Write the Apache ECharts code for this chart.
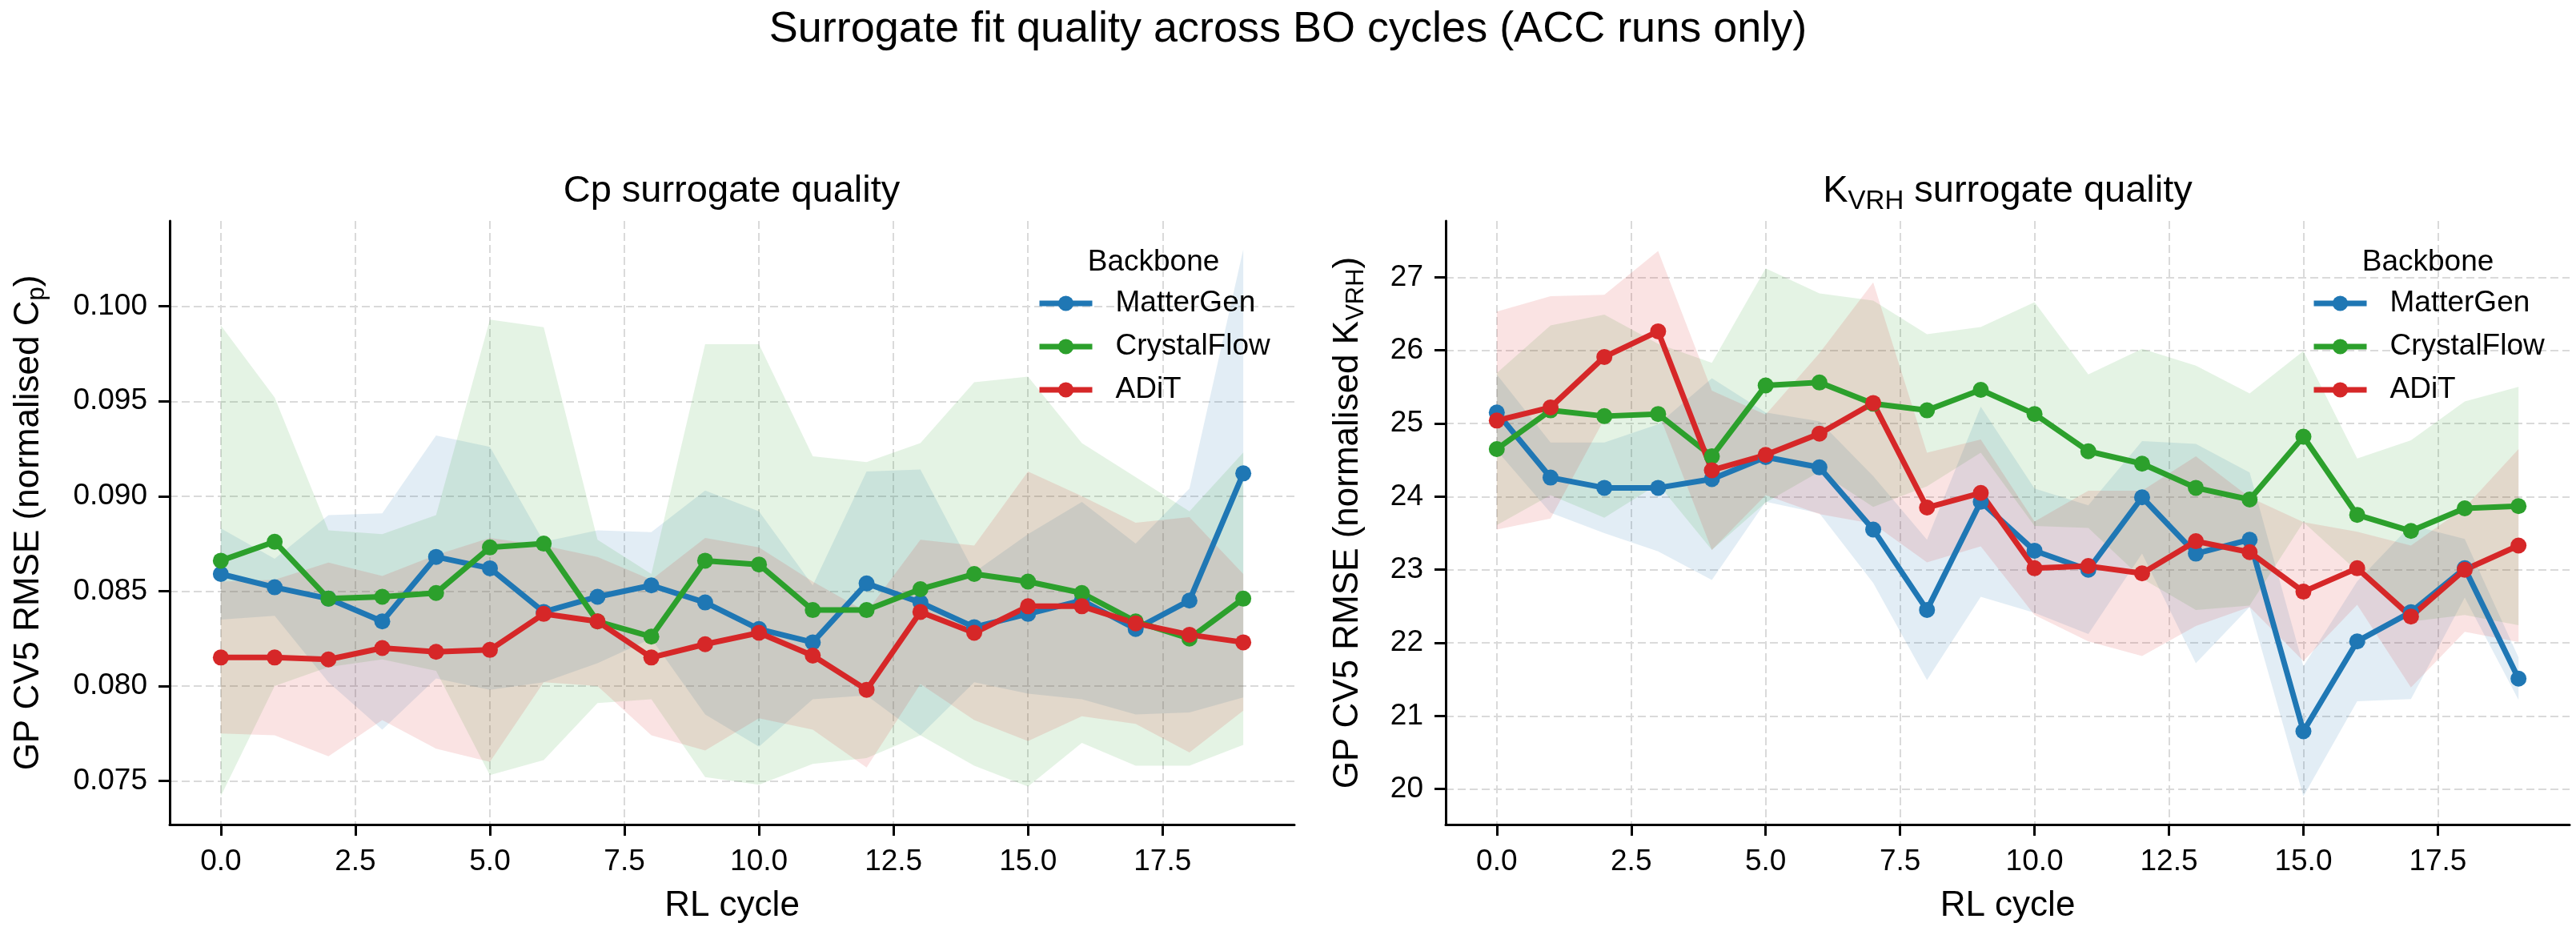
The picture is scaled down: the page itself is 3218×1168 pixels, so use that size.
<!DOCTYPE html>
<html>
<head>
<meta charset="utf-8">
<script src="https://cdn.jsdelivr.net/npm/echarts@6/dist/echarts.min.js"></script>
<style>
html, body { margin: 0; padding: 0; background: #fff; }
#chart { width: 3218px; height: 1168px; }
</style>
</head>
<body>
<div id="chart"></div>
<script>
// RL cycles on the x axis
const cycles = [0, 1, 2, 3, 4, 5, 6, 7, 8, 9, 10, 11, 12, 13, 14, 15, 16, 17, 18, 19];
const xTicks = [0, 2.5, 5, 7.5, 10, 12.5, 15, 17.5];
const cpTicks = [0.075, 0.080, 0.085, 0.090, 0.095, 0.100];
const kTicks = [20, 21, 22, 23, 24, 25, 26, 27];
const backbones = ['MatterGen', 'CrystalFlow', 'ADiT'];

// Cp panel: mean and std per cycle
const cpMatterGen = [0.0859, 0.0852, 0.0846, 0.0834, 0.0868, 0.0862, 0.0839, 0.0847, 0.0853, 0.0844, 0.0830, 0.0823, 0.0854, 0.0844, 0.0831, 0.0838, 0.0845, 0.0830, 0.0845, 0.0912];
const cpMatterGenSd = [0.0024, 0.0015, 0.0044, 0.0057, 0.0064, 0.0064, 0.0037, 0.0035, 0.0028, 0.0059, 0.0062, 0.0030, 0.0059, 0.0070, 0.0029, 0.0042, 0.0052, 0.0045, 0.0059, 0.0118];
const cpCrystalFlow = [0.0866, 0.0876, 0.0846, 0.0847, 0.0849, 0.0873, 0.0875, 0.0834, 0.0826, 0.0866, 0.0864, 0.0840, 0.0840, 0.0851, 0.0859, 0.0855, 0.0849, 0.0834, 0.0825, 0.0846];
const cpCrystalFlowSd = [0.0124, 0.0076, 0.0036, 0.0033, 0.0041, 0.0120, 0.0114, 0.0043, 0.0033, 0.0114, 0.0116, 0.0081, 0.0078, 0.0077, 0.0101, 0.0108, 0.0079, 0.0076, 0.0067, 0.0077];
const cpADiT = [0.0815, 0.0815, 0.0814, 0.0820, 0.0818, 0.0819, 0.0838, 0.0834, 0.0815, 0.0822, 0.0828, 0.0816, 0.0798, 0.0839, 0.0828, 0.0842, 0.0842, 0.0833, 0.0827, 0.0823];
const cpADiTSd = [0.0040, 0.0041, 0.0051, 0.0038, 0.0051, 0.0059, 0.0036, 0.0034, 0.0041, 0.0056, 0.0045, 0.0039, 0.0041, 0.0038, 0.0046, 0.0071, 0.0058, 0.0053, 0.0062, 0.0036];

// K_VRH panel: mean and std per cycle
const kMatterGen = [25.15, 24.26, 24.12, 24.12, 24.24, 24.54, 24.40, 23.55, 22.45, 23.93, 23.26, 23.00, 23.99, 23.22, 23.41, 20.79, 22.02, 22.42, 23.02, 21.51];
const kMatterGenSd = [0.52, 0.48, 0.62, 0.87, 1.38, 0.61, 0.63, 0.73, 0.96, 1.30, 0.85, 0.88, 0.77, 1.50, 0.92, 0.89, 0.82, 1.19, 0.40, 0.29];
const kCrystalFlow = [24.65, 25.18, 25.10, 25.13, 24.55, 25.52, 25.56, 25.27, 25.18, 25.46, 25.13, 24.62, 24.45, 24.12, 23.96, 24.82, 23.75, 23.53, 23.84, 23.87];
const kCrystalFlowSd = [1.04, 1.16, 1.39, 0.96, 1.28, 1.60, 1.22, 1.41, 1.04, 0.86, 1.53, 1.05, 1.57, 1.67, 1.45, 1.17, 0.77, 1.24, 1.46, 1.63];
const kADiT = [25.04, 25.22, 25.91, 26.26, 24.36, 24.57, 24.86, 25.28, 23.85, 24.05, 23.02, 23.05, 22.95, 23.39, 23.24, 22.70, 23.02, 22.36, 23.00, 23.33];
const kADiTSd = [1.49, 1.52, 0.85, 1.10, 1.09, 0.55, 1.10, 1.65, 0.75, 0.73, 0.64, 1.03, 1.13, 1.16, 0.75, 0.95, 0.50, 0.97, 0.85, 1.32];

const colors = ['#1f77b4', '#2ca02c', '#d62728'];
const bandColors = ['rgba(31,119,180,0.13)', 'rgba(44,160,44,0.13)', 'rgba(214,39,40,0.13)'];
const font = 'Liberation Sans, Arial, Helvetica, sans-serif';

const panels = [
  { means: [cpMatterGen, cpCrystalFlow, cpADiT], sds: [cpMatterGenSd, cpCrystalFlowSd, cpADiTSd] },
  { means: [kMatterGen, kCrystalFlow, kADiT], sds: [kMatterGenSd, kCrystalFlowSd, kADiTSd] }
];

function bandSeries(p, j) {
  const mean = panels[p].means[j], sd = panels[p].sds[j];
  return {
    type: 'custom',
    name: backbones[j] + ' band',
    xAxisIndex: p, yAxisIndex: p,
    z: 1, silent: true,
    data: [[cycles[0], mean[0]]],
    renderItem: function (params, api) {
      const pts = [];
      for (let i = 0; i < cycles.length; i++) pts.push(api.coord([cycles[i], mean[i] + sd[i]]));
      for (let i = cycles.length - 1; i >= 0; i--) pts.push(api.coord([cycles[i], mean[i] - sd[i]]));
      return { type: 'polygon', shape: { points: pts }, style: { fill: bandColors[j] } };
    }
  };
}

function lineSeries(p, j) {
  const mean = panels[p].means[j];
  return {
    type: 'line',
    name: backbones[j],
    xAxisIndex: p, yAxisIndex: p,
    z: 3,
    data: cycles.map((c, i) => [c, mean[i]]),
    symbol: 'circle', symbolSize: 20, showSymbol: true,
    lineStyle: { color: colors[j], width: 7 },
    itemStyle: { color: colors[j] },
    emphasis: { disabled: true }
  };
}

const series = [];
for (let p = 0; p < 2; p++) {
  for (let j = 0; j < 3; j++) series.push(bandSeries(p, j));
}
for (let p = 0; p < 2; p++) {
  for (let j = 0; j < 3; j++) series.push(lineSeries(p, j));
}

const gridLine = { show: true, lineStyle: { color: '#dadada', width: 2, type: [10, 5] } };
const axisLine = { show: true, onZero: false, lineStyle: { color: '#000', width: 3 } };
const axisTick = { show: true, length: 14, lineStyle: { color: '#000', width: 3 } };
const sub = { fontSize: 31, fontFamily: font, fontWeight: 'normal', color: '#000', verticalAlign: 'top', padding: [17, 0, 0, 0] };
const nrm = { fontSize: 44, fontFamily: font, fontWeight: 'normal', color: '#000', verticalAlign: 'top' };

function xAxis(idx) {
  return {
    type: 'value', gridIndex: idx, min: -0.95, max: 19.95,
    name: 'RL cycle', nameLocation: 'middle', nameGap: 80,
    nameTextStyle: { fontSize: 44, fontFamily: font, color: '#000' },
    axisLine: axisLine,
    axisTick: Object.assign({ customValues: xTicks }, axisTick),
    axisLabel: { customValues: xTicks, margin: 28, fontSize: 37, fontFamily: font, color: '#000',
      formatter: v => v.toFixed(1) },
    splitLine: gridLine
  };
}

const option = {
  animation: false,
  backgroundColor: '#fff',
  title: [
    { text: 'Surrogate fit quality across BO cycles (ACC runs only)', left: 1609, top: 10, textAlign: 'center', padding: 0,
      textStyle: { fontSize: 54, fontWeight: 'normal', fontFamily: font, color: '#000' } },
    { text: 'Cp surrogate quality', left: 914, top: 216, textAlign: 'center', padding: 0,
      textStyle: { fontSize: 47, fontWeight: 'normal', fontFamily: font, color: '#000' } },
    { text: '{n|K}{s|VRH}{n| surrogate quality}', left: 2508, top: 216, textAlign: 'center', padding: 0,
      textStyle: { fontWeight: 'normal', rich: { n: Object.assign({}, nrm, { fontSize: 47 }), s: Object.assign({}, sub, { fontSize: 33, padding: [19, 0, 0, 0] }) } } },
    { text: 'Backbone', left: 1441, top: 309, textAlign: 'center', padding: 0,
      textStyle: { fontSize: 37, fontWeight: 'normal', fontFamily: font, color: '#000' } },
    { text: 'Backbone', left: 3033, top: 309, textAlign: 'center', padding: 0,
      textStyle: { fontSize: 37, fontWeight: 'normal', fontFamily: font, color: '#000' } }
  ],
  legend: [1295, 2887].map(x => ({
    data: backbones, orient: 'vertical', left: x, top: 359, padding: 0,
    itemWidth: 66, itemHeight: 24, itemGap: 14,
    lineStyle: { width: 7 },
    textStyle: { fontSize: 37, lineHeight: 40, fontFamily: font, color: '#000', padding: [0, 0, 0, 24] }
  })),
  grid: [
    { left: 212, top: 276, width: 1405, height: 754 },
    { left: 1806, top: 276, width: 1404, height: 754 }
  ],
  xAxis: [xAxis(0), xAxis(1)],
  yAxis: [
    { type: 'value', gridIndex: 0, min: 0.0727, max: 0.1045,
      name: '{n|GP CV5 RMSE (normalised C}{s|p}{n|)}', nameLocation: 'middle', nameGap: 150, nameRotate: 90,
      nameTextStyle: { rich: { n: nrm, s: sub } },
      axisLine: axisLine,
      axisTick: Object.assign({ customValues: cpTicks }, axisTick),
      axisLabel: { customValues: cpTicks, margin: 28, fontSize: 37, fontFamily: font, color: '#000',
        formatter: v => v.toFixed(3) },
      splitLine: gridLine },
    { type: 'value', gridIndex: 1, min: 19.515, max: 27.77,
      name: '{n|GP CV5 RMSE (normalised K}{s|VRH}{n|)}', nameLocation: 'middle', nameGap: 96, nameRotate: 90,
      nameTextStyle: { rich: { n: nrm, s: sub } },
      axisLine: axisLine,
      axisTick: Object.assign({ customValues: kTicks }, axisTick),
      axisLabel: { customValues: kTicks, margin: 28, fontSize: 37, fontFamily: font, color: '#000',
        formatter: v => String(v) },
      splitLine: gridLine }
  ],
  series: series
};

const chart = echarts.init(document.getElementById('chart'), null, { renderer: 'canvas' });
chart.setOption(option);
</script>
</body>
</html>
